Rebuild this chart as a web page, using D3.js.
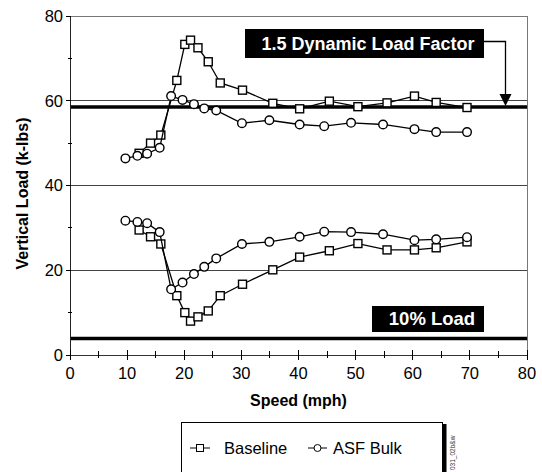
<!DOCTYPE html>
<html><head><meta charset="utf-8">
<script src="https://cdn.jsdelivr.net/npm/d3@7"></script>
<style>body{margin:0;background:#fff}svg{display:block;font-family:Arial,"Liberation Sans",sans-serif}</style>
</head><body><svg id="c" width="542" height="472"></svg>
<script>
// ---- data ----
const baselineSpeed = [12.1,14.1,15.9,18.7,20.1,21.1,22.4,24.2,26.3,30.2,35.5,40.2,45.4,50.4,55.5,60.3,64.1,69.5];
const baselineUpper = [47.6,50.0,51.9,64.8,73.3,74.3,72.5,69.2,64.2,62.5,59.4,58.1,59.9,58.6,59.5,61.1,59.6,58.4];
const baselineLower = [29.5,27.9,26.2,14.0,10.0,8.0,9.0,10.4,14.0,16.7,20.1,23.1,24.6,26.3,24.8,24.8,25.3,26.7];
const asfSpeed = [9.7,11.8,13.5,15.7,17.7,19.7,21.7,23.5,25.6,30.1,34.9,40.2,44.5,49.2,54.8,60.3,64.1,69.5];
const asfUpper = [46.4,47.0,47.5,48.9,61.1,60.2,59.2,58.2,57.7,54.7,55.4,54.4,54.0,54.8,54.4,53.3,52.6,52.6];
const asfLower = [31.7,31.4,31.1,29.0,15.5,17.1,19.1,20.8,22.8,26.2,26.7,27.9,29.1,29.0,28.5,27.1,27.3,27.8];
const xTicks = [0,10,20,30,40,50,60,70,80];
const yTicks = [0,20,40,60,80];
const dynamicLoad = 58.5;   // 1.5 Dynamic Load Factor
const tenPctLoad = 3.9;     // 10% Load
const seriesNames = ["Baseline","ASF Bulk"];

// ---- layout ----
const svg = d3.select("#c");
const L=70, R=527, T=16, B=355;
const x = d3.scaleLinear().domain([0,80]).range([L,R]);
const y = d3.scaleLinear().domain([0,80]).range([B,T]);

// gridlines
svg.append("g").selectAll("line").data(yTicks.filter(d=>d>0)).join("line")
  .attr("x1",L).attr("x2",R).attr("y1",d=>y(d)).attr("y2",d=>y(d))
  .attr("stroke",d=>d===80?"#777":"#444").attr("stroke-width",1).attr("shape-rendering","crispEdges");
// right border
svg.append("line").attr("x1",R).attr("x2",R).attr("y1",T).attr("y2",B).attr("stroke","#777").attr("shape-rendering","crispEdges");

// reference thick lines
[dynamicLoad, tenPctLoad].forEach(v=>{
  svg.append("line").attr("x1",L).attr("x2",R).attr("y1",y(v)).attr("y2",y(v))
    .attr("stroke","#000").attr("stroke-width",3.5);
});

// y axis
const yAx = svg.append("g");
yAx.append("line").attr("x1",L).attr("x2",L).attr("y1",T).attr("y2",B).attr("stroke","#222").attr("shape-rendering","crispEdges");
yAx.selectAll(".ymaj").data(yTicks).join("line").attr("x1",L-4).attr("x2",L+1).attr("y1",d=>y(d)).attr("y2",d=>y(d)).attr("stroke","#000").attr("shape-rendering","crispEdges");
yAx.selectAll(".ymin").data([10,30,50,70]).join("line").attr("class","ymin").attr("x1",L-2).attr("x2",L+2).attr("y1",d=>y(d)).attr("y2",d=>y(d)).attr("stroke","#000").attr("shape-rendering","crispEdges");
yAx.selectAll("text").data(yTicks).join("text").attr("x",L-7).attr("y",d=>y(d)).attr("dy","0.35em")
  .attr("text-anchor","end").attr("font-size",16.5).text(d=>d);

// x axis
const xAx = svg.append("g");
xAx.append("line").attr("x1",L).attr("x2",R).attr("y1",B).attr("y2",B).attr("stroke","#333").attr("shape-rendering","crispEdges");
xAx.selectAll(".xmaj").data(xTicks).join("line").attr("x1",d=>x(d)).attr("x2",d=>x(d)).attr("y1",B-5).attr("y2",B+5).attr("stroke","#000").attr("shape-rendering","crispEdges");
xAx.selectAll(".xmin").data(d3.range(5,80,10)).join("line").attr("class","xmin").attr("x1",d=>x(d)).attr("x2",d=>x(d)).attr("y1",B-4).attr("y2",B+3).attr("stroke","#000").attr("shape-rendering","crispEdges");
xAx.selectAll("text").data(xTicks).join("text").attr("x",d=>x(d)).attr("y",B+24)
  .attr("text-anchor","middle").attr("font-size",16.5).text(d=>d);

// axis titles
svg.append("text").attr("transform",`translate(28,${(T+B)/2+8}) rotate(-90)`).attr("text-anchor","middle")
  .attr("font-size",16).attr("font-weight","bold").text("Vertical Load (k-lbs)");
svg.append("text").attr("x",(L+R)/2).attr("y",B+51).attr("text-anchor","middle")
  .attr("font-size",16).attr("font-weight","bold").text("Speed (mph)");

// series
const line = d3.line().x(d=>x(d[0])).y(d=>y(d[1]));
function drawSeries(xs, ys, shape){
  const pts = xs.map((v,i)=>[v,ys[i]]);
  svg.append("path").datum(pts).attr("d",line).attr("fill","none").attr("stroke","#000").attr("stroke-width",1.3);
  const g = svg.append("g");
  if(shape==="square"){
    g.selectAll("rect").data(pts).join("rect").attr("x",d=>x(d[0])-4).attr("y",d=>y(d[1])-4)
      .attr("width",8).attr("height",8).attr("fill","#fff").attr("stroke","#000").attr("stroke-width",1.4);
  } else {
    g.selectAll("circle").data(pts).join("circle").attr("cx",d=>x(d[0])).attr("cy",d=>y(d[1]))
      .attr("r",4.3).attr("fill","#fff").attr("stroke","#000").attr("stroke-width",1.4);
  }
}
drawSeries(baselineSpeed, baselineUpper, "square");
drawSeries(baselineSpeed, baselineLower, "square");
drawSeries(asfSpeed, asfUpper, "circle");
drawSeries(asfSpeed, asfLower, "circle");

// annotation: 1.5 Dynamic Load Factor
svg.append("rect").attr("x",245).attr("y",29).attr("width",239).attr("height",29).attr("fill","#000");
svg.append("text").attr("x",368).attr("y",43.5).attr("dy","0.35em").attr("text-anchor","middle")
  .attr("fill","#fff").attr("font-size",18).attr("font-weight","bold").text("1.5 Dynamic Load Factor");
svg.append("path").attr("d",`M484,41.5H505.5V${y(dynamicLoad)-12}`).attr("fill","none").attr("stroke","#000").attr("stroke-width",1.3);
svg.append("path").attr("d",`M499.5,${y(dynamicLoad)-13}L511.5,${y(dynamicLoad)-13}L505.5,${y(dynamicLoad)-1}Z`).attr("fill","#000");

// annotation: 10% Load
svg.append("rect").attr("x",372).attr("y",306).attr("width",112).attr("height",26).attr("fill","#000");
svg.append("text").attr("x",432).attr("y",319).attr("dy","0.35em").attr("text-anchor","middle")
  .attr("fill","#fff").attr("font-size",18.5).attr("font-weight","bold").text("10% Load");

// legend
svg.append("rect").attr("x",443).attr("y",424).attr("width",3.5).attr("height",60).attr("fill","#000");
svg.append("rect").attr("x",181.5).attr("y",422.5).attr("width",261).attr("height",60).attr("fill","#fff").attr("stroke","#000").attr("stroke-width",1);
const ly = 448;
svg.append("line").attr("x1",190).attr("x2",210).attr("y1",ly).attr("y2",ly).attr("stroke","#000");
svg.append("rect").attr("x",196.5).attr("y",ly-3.5).attr("width",7).attr("height",7).attr("fill","#fff").attr("stroke","#000");
svg.append("text").attr("x",224).attr("y",ly).attr("dy","0.35em").attr("font-size",16.5).text(seriesNames[0]);
svg.append("line").attr("x1",308).attr("x2",327).attr("y1",ly).attr("y2",ly).attr("stroke","#000");
svg.append("circle").attr("cx",317.5).attr("cy",ly).attr("r",3.5).attr("fill","#fff").attr("stroke","#000");
svg.append("text").attr("x",333).attr("y",ly).attr("dy","0.35em").attr("font-size",16.5).text(seriesNames[1]);

// file id
svg.append("text").attr("transform","translate(455,470) rotate(-90)").attr("font-size",6.5).attr("fill","#333").text("031_02b&w");
</script></body></html>
